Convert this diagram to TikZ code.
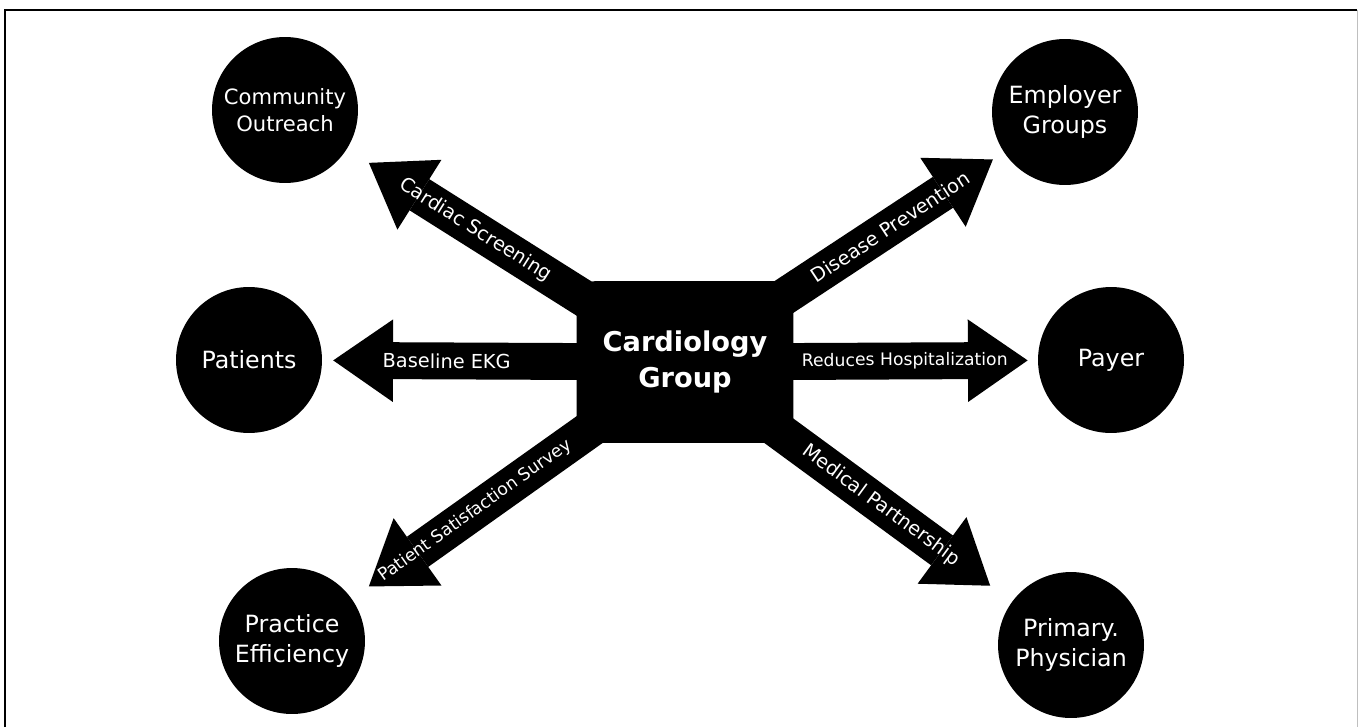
\documentclass[tikz,border=0pt]{standalone}
\usepackage{fontspec}
\setmainfont{DejaVu Sans}
\usetikzlibrary{arrows.meta,backgrounds}
\tikzset{
  bubble/.style={circle,fill=black,text=white,minimum size=2.92cm,inner sep=0pt,align=center,font=\fontsize{13.5}{17}\selectfont},
  hub/.style={rectangle,rounded corners=0.4cm,fill=black,text=white,minimum width=4.34cm,minimum height=3.24cm,align=center,font=\bfseries\fontsize{15.5}{20}\selectfont},
  fatarrow/.style={line width=21pt,-{Triangle[length=34pt,width=47pt,line width=0pt]},shorten <=-20pt},
  lbl/.style={text=white,sloped,inner sep=0pt,font=\fontsize{11}{13}\selectfont}
}

\begin{document}
\begin{tikzpicture}[x=0.02cm,y=-0.02cm]
\useasboundingbox (0,0) rectangle (1361,727);
\draw[line width=1.2pt] (5,727) -- (5,10) -- (1357,10);
\draw[black!25] (1357,10) -- (1357,727);

\node[hub] (cg) at (685,362) {Cardiology\\Group};
\node[bubble,font=\fontsize{12}{15}\selectfont] (co) at (285,110) {Community\\Outreach};
\node[bubble] (eg) at (1065,112) {Employer\\Groups};
\node[bubble] (pat) at (249,360) {Patients};
\node[bubble] (pay) at (1111,360) {Payer};
\node[bubble] (pe) at (292,641) {Practice\\Efficiency};
\node[bubble] (pp) at (1071,645) {Primary.\\Physician};

\begin{scope}[on background layer]
\draw[fatarrow,shorten >=14.7pt] (cg) -- (co) node[lbl,pos=0.44] {Cardiac Screening};
\draw[fatarrow,shorten >=7.4pt] (cg) -- (eg) node[lbl,pos=0.46] {Disease Prevention};
\draw[fatarrow,shorten >=6.2pt] (cg) -- (pat) node[lbl,pos=0.51] {Baseline EKG};
\draw[fatarrow,shorten >=5.7pt] (cg) -- (pay) node[lbl,pos=0.455,font=\fontsize{9.8}{12}\selectfont] {Reduces Hospitalization};
\draw[fatarrow,shorten >=11.9pt] (cg) -- (pe) node[lbl,pos=0.45,font=\fontsize{9.8}{12}\selectfont] {Patient Satisfaction Survey};
\draw[fatarrow,shorten >=15.3pt] (cg) -- (pp) node[lbl,pos=0.40] {Medical Partnership};
\end{scope}
\end{tikzpicture}
\end{document}
